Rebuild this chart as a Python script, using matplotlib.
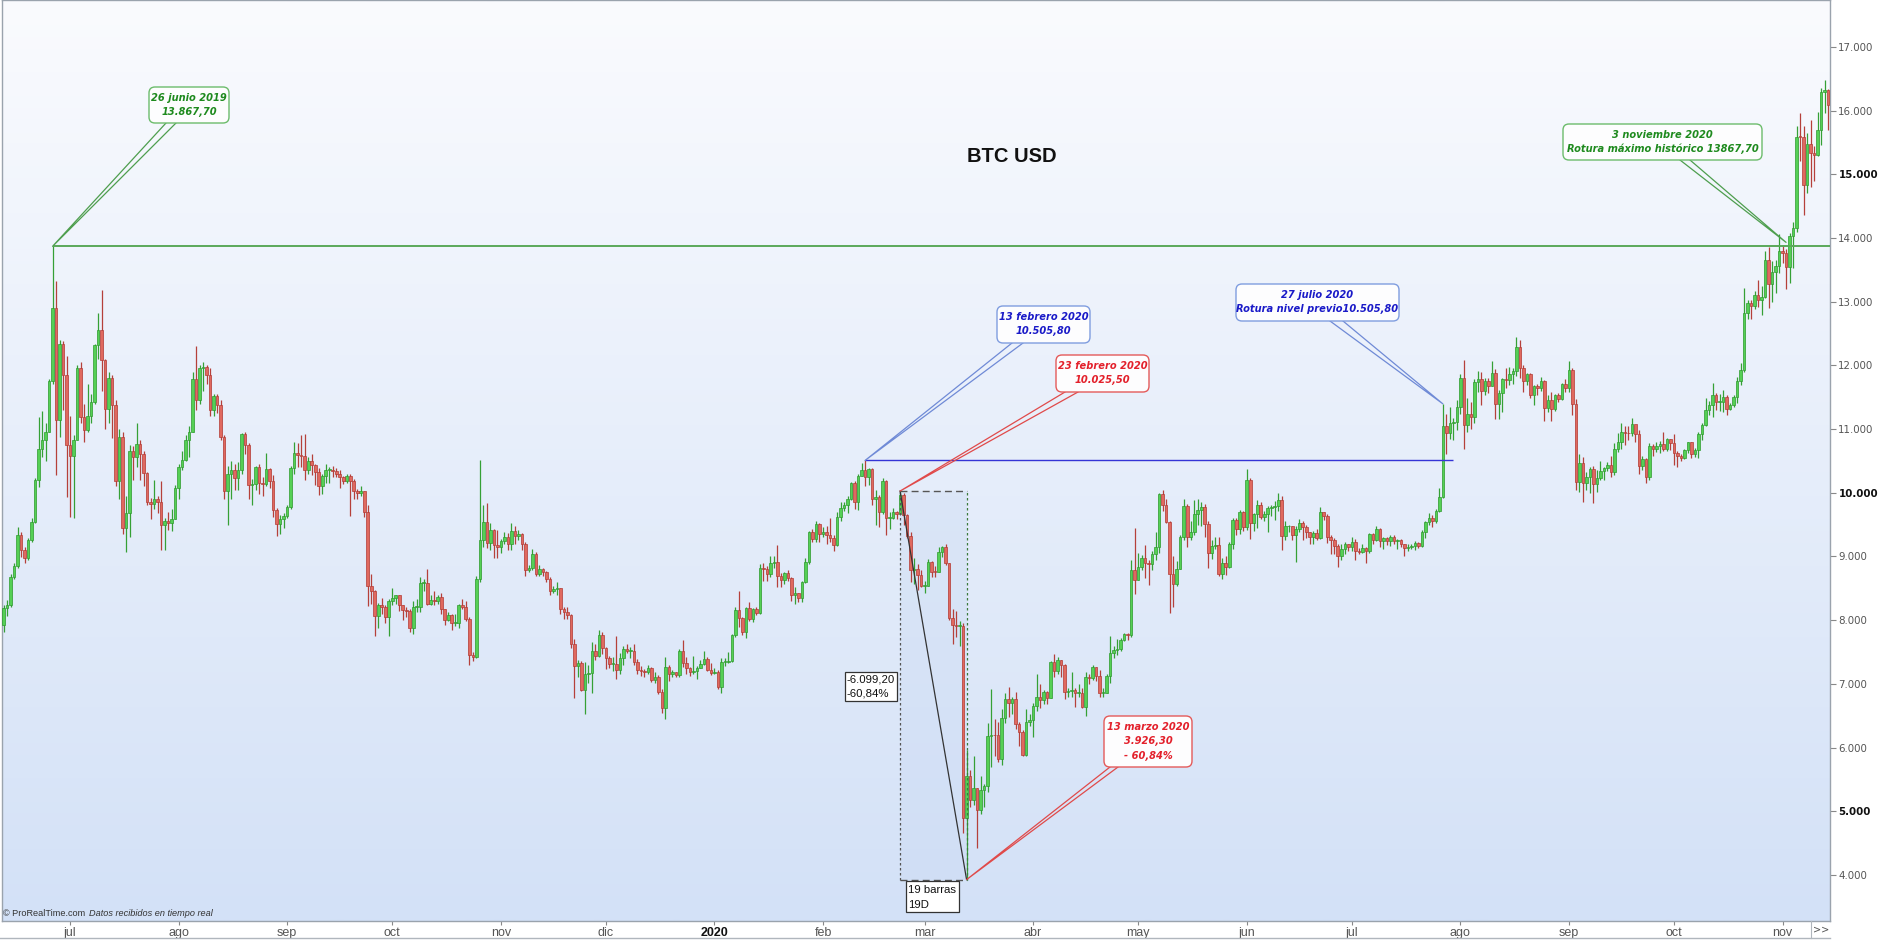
import numpy as np
import pandas as pd
import matplotlib
matplotlib.use("Agg")
import matplotlib.pyplot as plt
from matplotlib.patches import FancyBboxPatch, Rectangle

# ---------------- data (daily BTC/USD candles) ----------------
start_date = "2019-06-11"
first_open = 7990

close_ = [
    # jun 2019 (11-30)
    7930, 8190, 8240, 8680, 8850, 9340, 9100, 8980, 9260, 9540, 10200, 10680, 10820, 10960, 11750, 12900, 11140, 12340, 11850, 10750,
    # jul 2019
    10570, 10830, 11950, 11190, 10980, 11200, 11430, 12320, 12550, 12080, 11320, 11800, 11380, 10180, 10880, 9450, 9680, 10660, 10560, 10760, 10600, 10310, 9850, 9820, 9900, 9860, 9490, 9550, 9520, 9590, 10080,
    # ago 2019
    10400, 10520, 10820, 10960, 11780, 11460, 11950, 11970, 11850, 11300, 11520, 11380, 10880, 10030, 10300, 10360, 10230, 10350, 10920, 10750, 10120, 10130, 10400, 10150, 10140, 10370, 10180, 9730, 9510, 9590, 9630,
    # sep 2019
    9770, 10380, 10620, 10590, 10580, 10350, 10500, 10440, 10330, 10110, 10260, 10360, 10360, 10340, 10300, 10240, 10190, 10260, 10180, 10020, 10000, 10020, 9700, 8530, 8450, 8060, 8240, 8200, 8050, 8300,
    # oct 2019
    8340, 8390, 8230, 8160, 8140, 7870, 8200, 8210, 8590, 8590, 8260, 8320, 8300, 8370, 8170, 8000, 8080, 7960, 7960, 8230, 8210, 8020, 7450, 7420, 8640, 9260, 9540, 9210, 9420, 9180, 9140,
    # nov 2019
    9240, 9300, 9190, 9400, 9320, 9350, 9200, 8780, 8820, 9040, 8730, 8810, 8760, 8640, 8460, 8490, 8500, 8180, 8120, 8080, 7620, 7280, 7320, 6910, 7150, 7170, 7520, 7430, 7760, 7560,
    # dic 2019
    7400, 7310, 7310, 7220, 7400, 7540, 7510, 7520, 7340, 7220, 7200, 7190, 7250, 7060, 7110, 6870, 6620, 7270, 7150, 7180, 7140, 7510, 7320, 7250, 7190, 7200, 7250, 7310, 7390, 7220, 7170,
    # ene 2020
    7180, 6950, 7340, 7350, 7360, 7760, 8160, 8040, 7820, 8190, 8020, 8180, 8110, 8820, 8810, 8720, 8900, 8910, 8700, 8630, 8740, 8660, 8390, 8420, 8340, 8600, 8910, 9390, 9280, 9510, 9350,
    # feb 2020
    9390, 9340, 9290, 9180, 9620, 9760, 9800, 9900, 10160, 9860, 10270, 10350, 10240, 10370, 9900, 9930, 9700, 10180, 9600, 9610, 9690, 9660, 9970, 9650, 9320, 8780, 8810, 8710, 8530,
    # mar 2020
    8530, 8910, 8760, 8750, 9070, 9150, 8890, 8030, 7930, 7910, 7910, 4900, 5560, 5170, 5360, 5020, 5340, 5400, 6180, 6200, 6190, 5820, 6470, 6760, 6700, 6760, 6370, 6250, 5880, 6400, 6430,
    # abr 2020
    6650, 6800, 6740, 6870, 6780, 7340, 7200, 7370, 7300, 6870, 6890, 6910, 6860, 6860, 6640, 7110, 7090, 7260, 7130, 6850, 6860, 7120, 7480, 7530, 7540, 7680, 7780, 7760, 8780, 8630,
    # may 2020
    8830, 8970, 8890, 8880, 9030, 9150, 9980, 9800, 9540, 8730, 8560, 8810, 9300, 9790, 9310, 9380, 9670, 9730, 9780, 9510, 9060, 9170, 9180, 8720, 8900, 8840, 9200, 9570, 9430, 9700, 9460,
    # jun 2020
    10200, 9520, 9660, 9800, 9620, 9670, 9760, 9780, 9790, 9880, 9320, 9470, 9470, 9340, 9430, 9530, 9460, 9380, 9300, 9360, 9290, 9690, 9630, 9300, 9250, 9160, 9000, 9120, 9190, 9140,
    # jul 2020
    9230, 9090, 9070, 9130, 9080, 9350, 9250, 9430, 9240, 9290, 9240, 9300, 9240, 9250, 9190, 9130, 9150, 9170, 9210, 9160, 9390, 9540, 9610, 9550, 9710, 9930, 11050, 10930, 11100, 11110, 11350,
    # ago 2020
    11800, 11070, 11230, 11190, 11740, 11780, 11600, 11760, 11680, 11880, 11390, 11570, 11780, 11770, 11860, 11910, 12280, 11950, 11750, 11860, 11530, 11680, 11650, 11750, 11330, 11460, 11320, 11530, 11470, 11710, 11650,
    # sep 2020
    11920, 11400, 10170, 10470, 10160, 10250, 10370, 10130, 10230, 10340, 10390, 10440, 10330, 10680, 10790, 10950, 10940, 10930, 11080, 10920, 10420, 10530, 10240, 10740, 10690, 10730, 10770, 10690, 10840, 10780,
    # oct 2020
    10620, 10570, 10550, 10670, 10790, 10600, 10670, 10920, 11060, 11300, 11380, 11540, 11430, 11430, 11500, 11320, 11370, 11510, 11750, 11920, 12820, 12980, 12930, 13110, 13030, 13070, 13650, 13280, 13460, 13560, 13800,
    # nov 2020 (1-14)
    13760, 13550, 14030, 14150, 15590, 15580, 14830, 15480, 15330, 15300, 15700, 16290, 16320, 16080,
]

high = [
    8050, 8230, 8320, 8720, 8890, 9460, 9380, 9150, 9290, 9600, 10230, 11190, 11280, 11100, 11790, 13867.7, 13330, 12400, 12380, 12150,
    11200, 10900, 12010, 12050, 11400, 11700, 11550, 12340, 12820, 13180, 12100, 11900, 11850, 11450, 11000, 10950, 9950, 10750, 10740, 11100, 10820, 10650, 10320, 9920, 10200, 9950, 10190, 9600, 9700, 9750, 10120,
    10450, 10650, 10900, 11050, 11900, 12300, 12000, 12050, 12000, 11950, 11550, 11550, 11450, 10900, 10420, 10500, 10450, 10480, 10940, 10950, 10780, 10220, 10420, 10450, 10250, 10620, 10380, 10280, 9760, 9650, 9680,
    9800, 10420, 10800, 10780, 10900, 10920, 10560, 10600, 10450, 10380, 10300, 10450, 10400, 10420, 10380, 10350, 10270, 10300, 10290, 10220, 10060, 10100, 10030, 9800, 8730, 8480, 8270, 8350, 8230, 8330,
    8500, 8400, 8400, 8240, 8200, 8170, 8300, 8330, 8680, 8650, 8800, 8400, 8450, 8400, 8420, 8180, 8120, 8100, 8100, 8250, 8330, 8300, 8050, 7500, 8700, 10520, 9800, 9840, 9520, 9430, 9420,
    9280, 9380, 9370, 9530, 9470, 9420, 9370, 9230, 8870, 9110, 9070, 8870, 8820, 8770, 8680, 8530, 8600, 8510, 8200, 8200, 8090, 7700, 7380, 7360, 7350, 7300, 7650, 7620, 7850, 7810,
    7580, 7430, 7420, 7750, 7480, 7590, 7630, 7570, 7620, 7390, 7280, 7240, 7300, 7270, 7180, 7140, 6920, 7420, 7290, 7220, 7190, 7540, 7690, 7420, 7270, 7440, 7280, 7370, 7520, 7420, 7320,
    7250, 7210, 7400, 7400, 7500, 7780, 8210, 8450, 8050, 8200, 8290, 8190, 8200, 8880, 8900, 8850, 9000, 9000, 9180, 8740, 8760, 8790, 8680, 8520, 8430, 8620, 8970, 9400, 9430, 9560, 9520,
    9460, 9480, 9600, 9330, 9700, 9850, 9860, 9950, 10170, 10180, 10290, 10460, 10505.8, 10390, 10380, 10050, 9960, 10230, 10200, 9690, 9760, 9710, 10025.5, 10000, 9660, 9380, 8970, 8880, 8790,
    8620, 8960, 8920, 8850, 9150, 9170, 9200, 8900, 8170, 8140, 7980, 7960, 5960, 5650, 5870, 5370, 5560, 5430, 6390, 6920, 6440, 6400, 6600, 6860, 6950, 6800, 6870, 6400, 6280, 6600, 6520,
    6700, 7150, 7000, 6900, 6880, 7360, 7460, 7420, 7380, 7310, 6940, 7190, 6940, 6990, 6930, 7190, 7160, 7290, 7260, 7210, 6940, 7150, 7750, 7590, 7700, 7720, 7790, 7800, 8950, 9440,
    9050, 9020, 9180, 8950, 9080, 9380, 9990, 10050, 9900, 9560, 9000, 8930, 9330, 9900, 9830, 9560, 9880, 9900, 9860, 9830, 9560, 9250, 9300, 9300, 8980, 9010, 9220, 9600, 9600, 9730, 9710,
    10370, 10230, 9680, 9880, 9850, 9720, 9790, 9800, 9870, 9990, 9950, 9560, 9490, 9480, 9480, 9590, 9560, 9490, 9390, 9400, 9430, 9780, 9700, 9670, 9330, 9290, 9190, 9190, 9230, 9200,
    9300, 9270, 9130, 9190, 9140, 9370, 9360, 9470, 9440, 9300, 9300, 9340, 9340, 9280, 9270, 9200, 9190, 9200, 9240, 9220, 9420, 9550, 9680, 9650, 9740, 10080, 11395, 11240, 11340, 11180, 11450,
    11860, 12080, 11480, 11420, 11790, 11910, 11900, 11800, 11800, 12060, 11940, 11620, 11800, 11960, 11970, 11950, 12450, 12390, 12000, 11880, 11880, 11690, 11710, 11810, 11770, 11530, 11580, 11550, 11570, 11720, 11780,
    12070, 11950, 11470, 10600, 10560, 10330, 10400, 10420, 10350, 10490, 10410, 10480, 10580, 10780, 10940, 11100, 11040, 11040, 11180, 11060, 10990, 10570, 10540, 10780, 10770, 10800, 10810, 10950, 10860, 10850,
    10920, 10650, 10600, 10690, 10800, 10800, 10700, 10960, 11100, 11480, 11440, 11720, 11560, 11550, 11620, 11540, 11410, 11540, 11820, 12030, 13210, 13020, 13020, 13160, 13340, 13250, 13790, 13850, 13640, 13660, 14060,
    13890, 13820, 14070, 14250, 15750, 15960, 15760, 15650, 15850, 15450, 15980, 16350, 16480, 16330,
]

low = [
    7720, 7820, 8060, 8200, 8640, 8820, 8990, 8900, 8950, 9230, 9520, 10090, 10560, 10500, 10950, 11700, 10280, 10880, 11300, 9940,
    9620, 9600, 10820, 11100, 10800, 10950, 11100, 11400, 12100, 11600, 11000, 11100, 10860, 10100, 9900, 9350, 9070, 9300, 10200, 10400, 10200, 10100, 9810, 9580, 9750, 9680, 9100, 9100, 9420, 9400, 9580,
    9900, 10350, 10500, 10560, 10950, 11300, 11400, 11600, 11700, 11200, 11200, 11250, 10830, 9900, 9500, 9900, 10050, 10050, 10300, 10600, 9900, 9800, 10050, 9980, 9950, 10100, 10080, 9620, 9320, 9350, 9450,
    9600, 9750, 10300, 10400, 10400, 10200, 10300, 10280, 10120, 9960, 9980, 10150, 10150, 10250, 10240, 10080, 10130, 10150, 9630, 9900, 9900, 9950, 9620, 8220, 8250, 7750, 7870, 8100, 7950, 7750,
    8230, 8250, 8150, 8000, 8050, 7820, 7780, 8130, 8130, 8450, 8240, 8240, 8230, 8250, 8100, 7920, 7980, 7850, 7900, 7880, 8170, 7980, 7300, 7360, 7400, 8600, 9150, 9130, 9100, 8980, 8980,
    9050, 9200, 9100, 9100, 9200, 9260, 9100, 8700, 8760, 8790, 8700, 8700, 8690, 8600, 8400, 8430, 8400, 8100, 8020, 8020, 7560, 6780, 7100, 6880, 6520, 7010, 6860, 7370, 7420, 7470,
    7230, 7250, 7200, 7080, 7160, 7300, 7480, 7400, 7300, 7160, 7130, 7110, 7160, 7030, 7020, 6840, 6540, 6440, 7050, 7110, 7100, 7110, 7270, 7160, 7130, 7150, 7080, 7250, 7300, 7200, 7140,
    7150, 6920, 6850, 7280, 7330, 7350, 7730, 7890, 7760, 7720, 7990, 7970, 8080, 8100, 8620, 8620, 8680, 8820, 8520, 8520, 8560, 8620, 8300, 8260, 8280, 8290, 8580, 8880, 9220, 9220, 9230,
    9300, 9200, 9230, 9090, 9160, 9550, 9720, 9680, 9880, 9740, 9730, 10260, 10100, 10120, 9800, 9500, 9460, 9660, 9330, 9430, 9580, 9580, 9660, 9500, 9290, 8600, 8570, 8470, 8520,
    8420, 8530, 8670, 8680, 8750, 8990, 8860, 8000, 7630, 7740, 7600, 4650, 3926.3, 5070, 5100, 4420, 4960, 5060, 5300, 5700, 5860, 5780, 5730, 6380, 6480, 6530, 6290, 6030, 5870, 5860, 6330,
    6170, 6580, 6620, 6680, 6680, 6770, 7100, 7150, 7110, 6760, 6790, 6800, 6640, 6800, 6620, 6500, 7000, 7060, 7050, 6790, 6800, 6850, 7020, 7410, 7450, 7520, 7670, 7680, 7740, 8410,
    8630, 8780, 8660, 8550, 8780, 8950, 9050, 9710, 9520, 8110, 8210, 8540, 8800, 9250, 9150, 9250, 9330, 9500, 9480, 9300, 8820, 8960, 9110, 8700, 8640, 8710, 8820, 9110, 9340, 9350, 9400,
    9420, 9280, 9400, 9450, 9580, 9560, 9390, 9640, 9570, 9710, 9100, 9250, 9380, 9250, 8910, 9380, 9260, 9290, 9200, 9200, 9260, 9280, 9570, 9210, 9030, 9040, 8840, 8950, 9030, 9080,
    9080, 8950, 9040, 9050, 8900, 9060, 9200, 9240, 9150, 9120, 9180, 9160, 9200, 9120, 9150, 9000, 9080, 9120, 9100, 9130, 9150, 9290, 9500, 9460, 9530, 9690, 9920, 10600, 10850, 10830, 10980,
    11230, 10690, 10960, 11000, 11100, 11580, 11370, 11530, 11560, 11670, 11150, 11150, 11270, 11650, 11690, 11700, 11830, 11800, 11580, 11690, 11490, 11380, 11540, 11590, 11130, 11270, 11120, 11280, 11420, 11450, 11580,
    11580, 11220, 10050, 10010, 9860, 10050, 9990, 9840, 10010, 10200, 10200, 10340, 10250, 10280, 10640, 10680, 10750, 10820, 10890, 10800, 10300, 10360, 10150, 10200, 10580, 10640, 10630, 10660, 10660, 10670,
    10440, 10400, 10500, 10530, 10620, 10550, 10560, 10540, 10820, 11050, 11220, 11190, 11300, 11280, 11270, 11220, 11300, 11350, 11410, 11690, 11900, 12730, 12720, 12880, 12920, 12790, 13060, 12900, 12990, 13130, 13450,
    13600, 13200, 13290, 13530, 14100, 15200, 14360, 14700, 14800, 14900, 15280, 15460, 15960, 15700,
]

month_labels = ["jul", "ago", "sep", "oct", "nov", "dic", "2020", "feb", "mar",
                "abr", "may", "jun", "jul", "ago", "sep", "oct", "nov"]
month_starts = pd.date_range("2019-07-01", "2020-11-01", freq="MS")
y_ticks = list(range(4000, 17001, 1000))

title = "BTC USD"
peak_2019 = 13867.70      # 26 junio 2019
level_feb13 = 10505.80    # 13 febrero 2020
level_feb23 = 10025.50    # 23 febrero 2020
low_mar13 = 3926.30       # 13 marzo 2020
nov_break_level = 13930   # callout anchor for the break of the record

# ---------------- figure / layout ----------------
W, H = 1882, 940
fig = plt.figure(figsize=(W / 100, H / 100), dpi=100)
fig.patch.set_facecolor("white")

L_px, R_px, T_px, B_px = 1.5, 1830, 0, 921
pos = [L_px / W, (H - B_px) / H, (R_px - L_px) / W, (B_px - T_px) / H]

bg = fig.add_axes(pos)
top_c = np.array([250, 251, 254]) / 255
bot_c = np.array([211, 225, 247]) / 255
t = np.linspace(0, 1, 256)[:, None]
grad = (top_c[None, :] * (1 - t) + bot_c[None, :] * t)[:, None, :]
bg.imshow(grad, aspect="auto", extent=[0, 1, 0, 1], origin="upper", interpolation="bilinear")
bg.set_xlim(0, 1); bg.set_ylim(0, 1)
bg.axis("off")

ax = fig.add_axes(pos)
ax.set_zorder(2)
ax.patch.set_alpha(0)

xlim = (0.42, 522.55)
ylim = (3276.3, 17734.7)
ax.set_xlim(*xlim)
ax.set_ylim(*ylim)

d0 = pd.Timestamp(start_date)
def di(s):
    return (pd.Timestamp(s) - d0).days

# ---------------- candles ----------------
c = np.array(close_, dtype=float)
h = np.array(high, dtype=float)
l = np.array(low, dtype=float)
o = np.r_[first_open, c[:-1]]
idx = np.arange(len(c))
up = c >= o

up_fill, up_edge = "#55d055", "#2e9a2e"
dn_fill, dn_edge = "#e0695f", "#b23a34"

ax.vlines(idx[up], l[up], h[up], color="#35a035", lw=0.9, zorder=2)
ax.vlines(idx[~up], l[~up], h[~up], color="#b5403a", lw=0.9, zorder=2)
body_bot = np.minimum(o, c)
body_h = np.maximum(np.abs(c - o), 14)
ax.bar(idx[up], body_h[up], bottom=body_bot[up], width=0.74,
       color=up_fill, edgecolor=up_edge, linewidth=0.5, zorder=3)
ax.bar(idx[~up], body_h[~up], bottom=body_bot[~up], width=0.74,
       color=dn_fill, edgecolor=dn_edge, linewidth=0.5, zorder=3)

# ---------------- horizontal levels ----------------
ax.hlines(peak_2019, di("2019-06-26"), xlim[1], color="#5aa85a", lw=1.4, zorder=4)
ax.hlines(level_feb13, di("2020-02-13"), di("2020-07-30"), color="#3434d6", lw=1.0, zorder=4)

# ---------------- measure box (23 feb -> 13 mar) ----------------
x0m, x1m = di("2020-02-23"), di("2020-03-13")
ax.add_patch(Rectangle((x0m, low_mar13), x1m - x0m, level_feb23 - low_mar13,
                       facecolor="#c9d9f3", alpha=0.35, edgecolor="none", zorder=1))
ax.plot([x0m, x1m], [level_feb23, level_feb23], color="#555555", lw=1.0, ls=(0, (5, 3)), zorder=4)
ax.plot([x0m, x1m], [low_mar13, low_mar13], color="#555555", lw=1.0, ls=(0, (5, 3)), zorder=4)
ax.plot([x0m, x0m], [low_mar13, level_feb23], color="#555555", lw=0.9, ls=(0, (2, 2)), zorder=4)
ax.plot([x1m, x1m], [low_mar13, level_feb23], color="#3c7a3c", lw=0.9, ls=(0, (2, 2)), zorder=4)
ax.plot([x0m, x1m], [level_feb23, low_mar13], color="#333333", lw=0.9, zorder=4)

# ---------------- axes styling ----------------
for s in ax.spines.values():
    s.set_color("#9aa3ad")
    s.set_linewidth(1.0)

ax.yaxis.tick_right()
ax.set_yticks(y_ticks)
ax.set_yticklabels([f"{v:,}".replace(",", ".") for v in y_ticks])
ax.tick_params(axis="y", direction="out", length=4, width=0.8, color="#888888",
               labelsize=7.4, pad=2, labelcolor="#555555")
for v, lab in zip(y_ticks, ax.get_yticklabels()):
    lab.set_family("DejaVu Sans")
    if v % 5000 == 0:
        lab.set_fontweight("bold")
        lab.set_color("#111111")

month_idx = [(d - d0).days for d in month_starts]
ax.set_xticks(month_idx)
ax.set_xticklabels(month_labels)
ax.tick_params(axis="x", direction="out", length=3, width=0.8, color="#888888",
               labelsize=9, pad=1, labelcolor="#555555")
for lab in ax.get_xticklabels():
    lab.set_family("Liberation Sans")
    if lab.get_text() == "2020":
        lab.set_fontweight("bold")
        lab.set_color("#111111")

# ---------------- overlay (pixel coordinates) ----------------
ov = fig.add_axes([0, 0, 1, 1])
ov.set_zorder(5)
ov.patch.set_alpha(0)
ov.set_xlim(0, W)
ov.set_ylim(H, 0)
ov.axis("off")

def to_px(i, p):
    xd, yd = ax.transData.transform((i, p))
    return xd, H - yd

def callout(box, bases, anchor, lines, edge, line_col, tcol):
    x0, y0, x1, y1 = box
    axp, ayp = to_px(*anchor)
    ov.plot([bases[0], axp, bases[1]], [y1, ayp, y1], color=line_col, lw=0.9, zorder=6)
    ov.add_patch(FancyBboxPatch((x0, y0), x1 - x0, y1 - y0,
                                boxstyle="round,pad=0,rounding_size=6",
                                facecolor="#fdfdfe", edgecolor=edge, lw=1.0, zorder=7))
    cx = (x0 + x1) / 2
    for k, txt in enumerate(lines):
        ov.text(cx, y0 + 10.7 + 14.5 * k, txt, ha="center", va="center",
                fontsize=7.1, fontweight="bold", fontstyle="italic",
                family="DejaVu Sans", color=tcol, zorder=8)

G_edge, G_line, G_txt = "#6cbc6c", "#4e9e4e", "#1e8a1e"
B_edge, B_line, B_txt = "#7f9ddf", "#6f8ad6", "#1a1ac8"
R_edge, R_line, R_txt = "#e45a5a", "#e04a4a", "#e3202b"

callout((149, 87, 229, 123), (166, 176), (di("2019-06-26"), peak_2019),
        ["26 junio 2019", "13.867,70"], G_edge, G_line, G_txt)
callout((997, 306, 1090, 343), (1012, 1023), (di("2020-02-13"), level_feb13),
        ["13 febrero 2020", "10.505,80"], B_edge, B_line, B_txt)
callout((1056, 355, 1149, 392), (1065, 1078), (di("2020-02-23"), level_feb23),
        ["23 febrero 2020", "10.025,50"], R_edge, R_line, R_txt)
callout((1104, 716, 1192, 767), (1110, 1118), (di("2020-03-13"), low_mar13),
        ["13 marzo 2020", "3.926,30", "- 60,84%"], R_edge, R_line, R_txt)
callout((1236, 284, 1399, 321), (1330, 1343), (di("2020-07-27"), h[di("2020-07-27")]),
        ["27 julio 2020", "Rotura nivel previo10.505,80"], B_edge, B_line, B_txt)
callout((1563, 124, 1762, 160), (1680, 1690), (di("2020-11-02"), nov_break_level),
        ["3 noviembre 2020", "Rotura máximo histórico 13867,70"], G_edge, G_line, G_txt)

# measure labels
ov.add_patch(Rectangle((845, 672), 52, 29, facecolor="white", edgecolor="#333333", lw=0.9, zorder=7))
ov.text(847, 679.5, "-6.099,20", ha="left", va="center", fontsize=8.2, family="Liberation Sans", color="#111111", zorder=8)
ov.text(847, 693.5, "-60,84%", ha="left", va="center", fontsize=8.2, family="Liberation Sans", color="#111111", zorder=8)
ov.add_patch(Rectangle((906, 881), 53, 31, facecolor="white", edgecolor="#333333", lw=0.9, zorder=7))
ov.text(908, 890, "19 barras", ha="left", va="center", fontsize=8.2, family="Liberation Sans", color="#111111", zorder=8)
ov.text(908, 905, "19D", ha="left", va="center", fontsize=8.2, family="Liberation Sans", color="#111111", zorder=8)

# title
ov.text(1012, 156, title, ha="center", va="center", fontsize=14.5, fontweight="bold",
        family="Liberation Sans", color="#111111", zorder=8)

# watermark (second part placed right after the first one)
wm1 = ov.text(3, 914, "© ProRealTime.com", ha="left", va="center", fontsize=6.6,
              family="Liberation Sans", color="#333333", zorder=8)
ov.annotate("Datos recibidos en tiempo real", xy=(1, 0.5), xycoords=wm1,
            xytext=(3, 0), textcoords="offset points", ha="left", va="center",
            fontsize=6.6, fontstyle="italic", family="Liberation Sans",
            color="#333333", zorder=8)

# bottom-right '>>' cell and bottom border
ov.plot([1811, 1811], [921, 938], color="#b0b6bd", lw=0.8, zorder=6)
ov.text(1821, 929.5, ">>", ha="center", va="center", fontsize=7, family="DejaVu Sans",
        color="#555555", zorder=8)
ov.plot([0, R_px], [938, 938], color="#b0b6bd", lw=1.0, zorder=6)

fig.savefig("out.png", dpi=100)
